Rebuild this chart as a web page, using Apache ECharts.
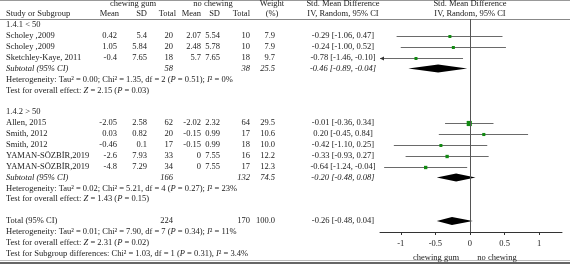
<!DOCTYPE html>
<html>
<head>
<meta charset="utf-8">
<style>
  html, body { margin: 0; padding: 0; background: #fff; }
  #main { width: 570px; height: 264px; }
</style>
</head>
<body>
<div id="main"></div>
<script src="https://cdn.jsdelivr.net/npm/echarts@6/dist/echarts.min.js"></script>
<script>
// study-level data
var studies = ['Scholey ,2009', 'Scholey ,2009', 'Sketchley-Kaye, 2011', 'Allen, 2015', 'Smith, 2012', 'Smith, 2012', 'YAMAN-SÖZBİR,2019', 'YAMAN-SÖZBİR,2019'];
var studyRow = [1, 2, 3, 9, 10, 11, 12, 13];
var gumMean = [0.42, 1.05, -0.4, -2.05, 0.03, -0.46, -2.6, -4.8];
var gumSD = [5.4, 5.84, 7.65, 2.58, 0.82, 0.1, 7.93, 7.29];
var gumN = [20, 20, 18, 62, 20, 17, 33, 34];
var noMean = [2.07, 2.48, 5.7, -2.02, -0.15, -0.15, 0, 0];
var noSD = [5.54, 5.78, 7.65, 2.32, 0.99, 0.99, 7.55, 7.55];
var noN = [10, 10, 18, 64, 17, 18, 16, 17];
var weights = [7.9, 7.9, 9.7, 29.5, 10.6, 10.0, 12.2, 12.3];
var smd = [-0.29, -0.24, -0.78, -0.01, 0.20, -0.42, -0.33, -0.64];
var ciLow = [-1.06, -1.00, -1.46, -0.36, -0.45, -1.10, -0.93, -1.24];
var ciHigh = [0.47, 0.52, -0.10, 0.34, 0.84, 0.25, 0.27, -0.04];

// pooled estimates (two subgroups + total)
var pooledNames = ['Subtotal (95% CI)', 'Subtotal (95% CI)', 'Total (95% CI)'];
var pooledRow = [4, 14, 18];
var pooledGumN = [58, 166, 224];
var pooledNoN = [38, 132, 170];
var pooledWeight = [25.5, 74.5, 100.0];
var pooledSmd = [-0.46, -0.20, -0.26];
var pooledLow = [-0.89, -0.48, -0.48];
var pooledHigh = [-0.04, 0.08, 0.04];

var groupLabels = ['1.4.1 < 50', '1.4.2 > 50'];
var groupRow = [0, 8];
var noteRows = [5, 6, 15, 16, 19, 20, 21];
var notes = [
    'Heterogeneity: Tau² = 0.00; Chi² = 1.35, df = 2 ({i|P} = 0.51); {i|I}² = 0%',
    'Test for overall effect: {i|Z} = 2.15 ({i|P} = 0.03)',
    'Heterogeneity: Tau² = 0.02; Chi² = 5.21, df = 4 ({i|P} = 0.27); {i|I}² = 23%',
    'Test for overall effect: {i|Z} = 1.43 ({i|P} = 0.15)',
    'Heterogeneity: Tau² = 0.01; Chi² = 7.90, df = 7 ({i|P} = 0.34); {i|I}² = 11%',
    'Test for overall effect: {i|Z} = 2.31 ({i|P} = 0.02)',
    'Test for Subgroup differences: Chi² = 1.03, df = 1 ({i|P} = 0.31), {i|I}² = 3.4%'
];
var xTicks = [-1, -0.5, 0, 0.5, 1];

var FONT = 'Liberation Serif';
var FS = 8.5;
var INK = '#222';

// column anchors in the table
var col = { name: 6, gMean: 117, gSD: 147, gN: 173, nMean: 201, nSD: 220, nN: 250, weight: 275, ci: 343, plot: 470 };

var cells = [];
function cell(x, row, text, align, italic) {
    cells.push({ value: [x, row], text: text, align: align, italic: !!italic });
}
function ciText(e, l, h) {
    return e.toFixed(2) + ' [' + l.toFixed(2) + ', ' + h.toFixed(2) + ']';
}

// header
cell(133, -2, 'chewing gum', 'center');
cell(213, -2, 'no chewing', 'center');
cell(272, -2, 'Weight', 'center');
cell(col.ci, -2, 'Std. Mean Difference', 'center');
cell(col.plot, -2, 'Std. Mean Difference', 'center');
cell(col.name, -1, 'Study or Subgroup', 'left');
cell(119, -1, 'Mean', 'right');
cell(col.gSD, -1, 'SD', 'right');
cell(176, -1, 'Total', 'right');
cell(col.nMean, -1, 'Mean', 'right');
cell(col.nSD, -1, 'SD', 'right');
cell(col.nN, -1, 'Total', 'right');
cell(272, -1, '(%)', 'center');
cell(col.ci, -1, 'IV, Random, 95% CI', 'center');
cell(col.plot, -1, 'IV, Random, 95% CI', 'center');

groupLabels.forEach(function (g, i) { cell(col.name, groupRow[i], g, 'left'); });

studies.forEach(function (s, i) {
    var r = studyRow[i];
    cell(col.name, r, s, 'left');
    cell(col.gMean, r, String(gumMean[i]), 'right');
    cell(col.gSD, r, String(gumSD[i]), 'right');
    cell(col.gN, r, String(gumN[i]), 'right');
    cell(col.nMean, r, String(noMean[i]), 'right');
    cell(col.nSD, r, String(noSD[i]), 'right');
    cell(col.nN, r, String(noN[i]), 'right');
    cell(col.weight, r, weights[i].toFixed(1), 'right');
    cell(col.ci, r, ciText(smd[i], ciLow[i], ciHigh[i]), 'center');
});

pooledNames.forEach(function (n, i) {
    var r = pooledRow[i];
    var it = i < 2;
    cell(col.name, r, n, 'left', it);
    cell(col.gN, r, String(pooledGumN[i]), 'right', it);
    cell(col.nN, r, String(pooledNoN[i]), 'right', it);
    cell(col.weight, r, pooledWeight[i].toFixed(1), 'right', it);
    cell(col.ci, r, ciText(pooledSmd[i], pooledLow[i], pooledHigh[i]), 'center', it);
});

notes.forEach(function (t, i) { cell(col.name, noteRows[i], t, 'left'); });

cell(436, 21.4, 'chewing gum', 'center');
cell(497, 21.4, 'no chewing', 'center');

var studyData = smd.map(function (v, i) {
    return [v, ciLow[i], ciHigh[i], studyRow[i], weights[i]];
});
var pooledData = pooledSmd.map(function (v, i) {
    return [v, pooledLow[i], pooledHigh[i], pooledRow[i]];
});

function renderStudy(params, api) {
    var cs = params.coordSys;
    var left = cs.x, right = cs.x + cs.width;
    var pEst = api.coord([api.value(0), api.value(3)]);
    var pLo = api.coord([api.value(1), api.value(3)]);
    var pHi = api.coord([api.value(2), api.value(3)]);
    var y = Math.round(pEst[1]) + 0.5;
    var x1 = Math.max(pLo[0], left), x2 = Math.min(pHi[0], right);
    var children = [{
        type: 'line',
        shape: { x1: x1, y1: y, x2: x2, y2: y },
        style: { stroke: '#6a6a6a', lineWidth: 1 }
    }];
    if (pLo[0] < left) {
        children.push({
            type: 'polygon',
            shape: { points: [[left, y], [left + 4, y - 2], [left + 4, y + 2]] },
            style: { fill: '#333' }
        });
    }
    var s = Math.max(3, Math.sqrt(api.value(4)) * 0.95);
    children.push({
        type: 'rect',
        shape: { x: pEst[0] - s / 2, y: y - s / 2, width: s, height: s },
        style: { fill: '#128a12' }
    });
    return { type: 'group', children: children };
}

function renderPooled(params, api) {
    var pEst = api.coord([api.value(0), api.value(3)]);
    var pLo = api.coord([api.value(1), api.value(3)]);
    var pHi = api.coord([api.value(2), api.value(3)]);
    var y = pEst[1];
    return {
        type: 'polygon',
        shape: { points: [[pLo[0], y], [pEst[0], y - 4], [pHi[0], y], [pEst[0], y + 4]] },
        style: { fill: '#000' }
    };
}

function renderCell(params, api) {
    var c = cells[params.dataIndex];
    var p = api.coord([api.value(0), api.value(1)]);
    return {
        type: 'text',
        style: {
            text: c.text,
            x: p[0],
            y: p[1],
            align: c.align,
            verticalAlign: 'middle',
            fontFamily: FONT,
            fontSize: FS,
            fontStyle: c.italic ? 'italic' : 'normal',
            fill: INK,
            rich: {
                i: { fontFamily: FONT, fontSize: FS, fontStyle: 'italic', fill: INK }
            }
        }
    };
}

var chartDom = document.getElementById('main');
var myChart = echarts.init(chartDom);

var option = {
    animation: false,
    backgroundColor: '#fff',
    grid: [
        { left: 380, top: 19, width: 182, height: 213, outerBoundsMode: 'none' },
        { left: 0, top: 0, width: 570, height: 264, outerBoundsMode: 'none' }
    ],
    xAxis: [
        {
            gridIndex: 0,
            type: 'value',
            min: -1.3,
            max: 1.33,
            splitLine: { show: false },
            axisLine: { onZero: false, lineStyle: { color: '#333', width: 1 } },
            axisTick: { customValues: xTicks, length: 3, lineStyle: { color: '#333' } },
            axisLabel: { customValues: xTicks, margin: 7, fontFamily: FONT, fontSize: FS, color: INK }
        },
        { gridIndex: 1, type: 'value', min: 0, max: 570, show: false }
    ],
    yAxis: [
        { gridIndex: 0, type: 'value', inverse: true, min: -0.56, max: 19.02, show: false },
        { gridIndex: 1, type: 'value', inverse: true, min: -2.307, max: 21.96, show: false }
    ],
    graphic: [
        { type: 'line', shape: { x1: 0, y1: 0.5, x2: 570, y2: 0.5 }, style: { stroke: '#999', lineWidth: 1 } },
        { type: 'line', shape: { x1: 0, y1: 19.5, x2: 570, y2: 19.5 }, style: { stroke: '#888', lineWidth: 1 } },
        { type: 'line', shape: { x1: 0, y1: 260.5, x2: 570, y2: 260.5 }, style: { stroke: '#bbb', lineWidth: 1 } },
        { type: 'rect', shape: { x: 0, y: 262, width: 570, height: 2 }, style: { fill: '#666' } }
    ],
    series: [
        {
            type: 'custom',
            xAxisIndex: 0,
            yAxisIndex: 0,
            renderItem: renderStudy,
            data: studyData,
            silent: true,
            markLine: {
                silent: true,
                symbol: 'none',
                label: { show: false },
                lineStyle: { color: '#555', type: 'solid', width: 1 },
                data: [{ xAxis: 0 }]
            }
        },
        {
            type: 'custom',
            xAxisIndex: 0,
            yAxisIndex: 0,
            renderItem: renderPooled,
            data: pooledData,
            silent: true
        },
        {
            type: 'custom',
            xAxisIndex: 1,
            yAxisIndex: 1,
            renderItem: renderCell,
            data: cells.map(function (c) { return c.value; }),
            silent: true
        }
    ]
};

option && myChart.setOption(option);
</script>
</body>
</html>
